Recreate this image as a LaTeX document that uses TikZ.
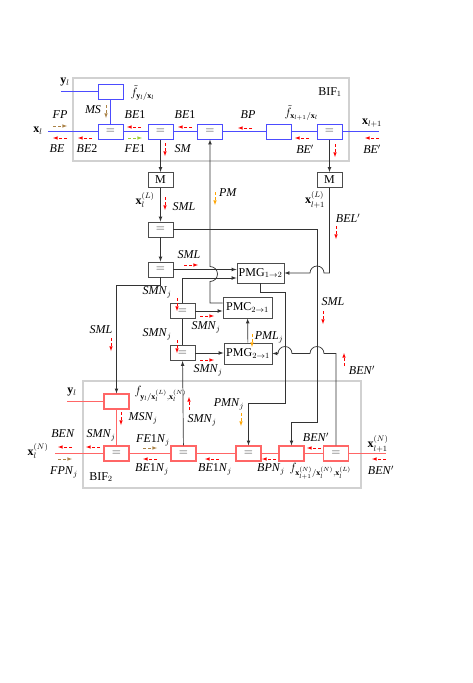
\documentclass[tikz,border=0pt]{standalone}
\usepackage{amsmath, amssymb}
\usepackage{fontspec}
\setmainfont{Liberation Serif}
\usepackage{tikz}
\usetikzlibrary{arrows}

\definecolor{brn}{RGB}{170,130,70}
\definecolor{org}{RGB}{255,165,0}
\definecolor{grn}{RGB}{154,205,50}

\begin{document}
\begin{tikzpicture}[x=1pt,y=1pt,font=\fontsize{12}{14}\selectfont]
\tikzstyle{bbox} = [draw=blue!70, line width=1pt, minimum width=25pt, minimum height=15pt, inner sep=0pt]
\tikzstyle{rbox} = [draw=red!60, line width=1.2pt, minimum width=25pt, minimum height=15pt, inner sep=0pt]
\tikzstyle{gbox} = [draw=black!70, line width=0.9pt, minimum width=25pt, minimum height=15pt, inner sep=0pt]
\tikzstyle{pbox} = [draw=black!70, line width=0.9pt, minimum width=48pt, minimum height=21pt, inner sep=1pt]
\tikzstyle{wire} = [black!80, line width=0.7pt]
\tikzstyle{msg} = [densely dashed, -latex, line width=0.6pt]
\tikzstyle{frame} = [draw=black!18, line width=1.6pt]
\newcommand{\eqs}{\textcolor{black!85}{\large$=$}}

\useasboundingbox (0,0) rectangle (473,-683);

% frames
\draw[frame] (73,-78) rectangle (349,-161);
\draw[frame] (83,-381) rectangle (361,-488);
\node (bif1) at (330,-92) {BIF$_1$};
\node (bif2) at (101,-477) {BIF$_2$};

% upper row
\coordinate (xl) at (48,-131.5);
\coordinate (xl1) at (379,-131.5);
\coordinate (yl) at (61,-91.5);
\node[bbox] (fy1) at (110.5,-91.5) {};
\node[bbox] (eq1) at (110.5,-131.5) {\eqs};
\node[bbox] (eq2) at (160.5,-131.5) {\eqs};
\node[bbox] (eq3) at (210,-131.5) {\eqs};
\node[bbox] (fx1) at (279,-131.5) {};
\node[bbox] (eq4) at (329.5,-131.5) {\eqs};
\draw[blue!70, line width=1.3pt] (xl) -- (eq1);
\draw[blue!70, line width=0.9pt] (eq1) -- (eq2) -- (eq3) -- (fx1) -- (eq4) -- (xl1);
\draw[blue!70, line width=0.9pt] (yl) -- (fy1) -- (eq1);

% lower row
\coordinate (xn) at (55,-453.5);
\coordinate (xn1) at (386,-453.5);
\coordinate (yn) at (67,-401.5);
\node[rbox] (fy2) at (116.5,-401.5) {};
\node[rbox] (eqa) at (116.5,-453.5) {\eqs};
\node[rbox] (eqb) at (183.5,-453.5) {\eqs};
\node[rbox] (eqc) at (248.5,-453.5) {\eqs};
\node[rbox] (fx2) at (291.5,-453.5) {};
\node[rbox] (eqd) at (336,-453.5) {\eqs};
\draw[red!60, line width=1.5pt] (xn) -- (eqa);
\draw[red!60, line width=1.1pt] (eqa) -- (eqb) -- (eqc) -- (fx2) -- (eqd) -- (xn1);
\draw[red!60, line width=1.1pt] (yn) -- (fy2) -- (eqa);

% middle
\node[gbox] (M1) at (160.5,-180) {M};
\node[gbox] (M2) at (329.5,-180) {M};
\node[gbox] (eqA) at (160.5,-229.5) {\eqs};
\node[gbox] (eqB) at (160.5,-269.5) {\eqs};
\node[gbox] (eqC) at (182.5,-311) {\eqs};
\node[gbox] (eqD) at (182.5,-353) {\eqs};
\node[pbox, minimum width=47pt, minimum height=20pt] (pmg12) at (260.5,-273) {PMG$_{1\to2}$};
\node[pbox, minimum width=49pt] (pmc21) at (247.5,-307.5) {PMC$_{2\to1}$};
\node[pbox] (pmg21) at (248,-353.5) {PMG$_{2\to1}$};

% connectors
\draw[wire,-latex] (eq2) -- (M1);
\draw[wire,-latex] (eq4) -- (M2);
\draw[wire,-latex] (M1) -- (eqA);
\draw[wire,-latex] (eqA) -- (eqB);
\draw[wire,-latex] (eqA.east) -| (317,-422) -| (fx2.north);
\draw[wire,-latex] (M2.south) |- (324,-273) arc (0:180:7pt) -- (pmg12.east);
\draw[wire,-latex] (eqB.east) -- (eqB.east -| pmg12.west);
\draw[wire,-latex] (eqC.north) |- ([yshift=-5pt]pmg12.west);
\draw[wire,-latex] (eqC.east) -- (eqC.east -| pmc21.west);
\draw[wire,-latex] (eqD.east) -- (eqD.east -| pmg21.west);
\draw[wire] (eqD) -- (eqC);
\draw[wire,-latex] (eqb) -- (eqD);
\draw[wire,-latex] ([yshift=4.5pt]pmc21.west) -| (210,-281.5) arc (-90:90:7.5pt) -- (eq3.south);
\draw[wire,-latex] (pmg12.south) -- ++(0,-9) -| (285,-403) -| (eqc.north);
\draw[wire,-latex] (pmg21) -- (pmc21);
\draw[wire,-latex] (eqd.north) |- (324,-353.5) arc (0:180:7pt) -- (292,-353.5) arc (0:180:7pt) -- (pmg21.east);
\draw[wire,-latex] (eqB.south) -- ++(0,-7.5) -| (fy2.north);

% upper labels
\node (lyl) at (65,-82) {$\mathbf{y}_l$};
\node[anchor=west] (lfy1) at (127,-93) {$\tilde{f}_{\mathbf{y}_l/\mathbf{x}_l}$};
\node (lxl) at (38,-131) {$\mathbf{x}_l$};
\node (lxl1) at (372,-123) {$\mathbf{x}_{l+1}$};
\node[anchor=west] (lfx1) at (281,-113) {$\tilde{f}_{\mathbf{x}_{l+1}/\mathbf{x}_l}$};
\node (lFP) at (60,-115) {\textit{FP}};
\draw[msg, brn] (53,-126) -- ++(14,0);
\node (lBE) at (57,-149) {\textit{BE}};
\draw[msg, red] (67,-138) -- ++(-14,0);
\node (lBE2) at (87,-149) {\textit{BE}2};
\draw[msg, red] (92,-138) -- ++(-14,0);
\node (lMS) at (93,-110) {\textit{MS}};
\draw[msg, brn] (106,-105) -- ++(0,-13);
\node (lBE1a) at (135,-115) {\textit{BE}1};
\draw[msg, red] (141,-127) -- ++(-14,0);
\node (lFE1) at (135,-149) {\textit{FE}1};
\draw[msg, grn] (128,-138) -- ++(14,0);
\node (lBE1b) at (185,-115) {\textit{BE}1};
\draw[msg, red] (192,-127) -- ++(-14,0);
\node (lSM) at (183,-149) {\textit{SM}};
\draw[msg, red] (165,-143) -- ++(0,-13);
\node (lBP) at (248,-115) {\textit{BP}};
\draw[msg, red] (252,-128) -- ++(-14,0);
\node (lBEp) at (305,-149) {\textit{BE}$'$};
\draw[msg, red] (309,-138) -- ++(-14,0);
\draw[msg, red] (335,-144) -- ++(0,-13);
\node (lBEpr) at (372,-149) {\textit{BE}$'$};
\draw[msg, red] (379,-138) -- ++(-14,0);

% middle labels
\node (lxL) at (145,-200) {$\mathbf{x}_l^{(L)}$};
\node (lSML1) at (184,-207) {\textit{SML}};
\draw[msg, red] (165,-197) -- ++(0,-13);
\node (lPM) at (228,-193) {\textit{PM}};
\draw[msg, org] (215,-192) -- ++(0,-13);
\node (lxL1) at (315,-200) {$\mathbf{x}_{l+1}^{(L)}$};
\node (lBELp) at (348,-218) {\textit{BEL}$'$};
\draw[msg, red] (336,-226) -- ++(0,-13);
\node (lSML2) at (189,-255) {\textit{SML}};
\draw[msg, red] (184,-265) -- ++(14,0);
\node (lSMN1) at (157,-292) {\textit{SMN}$_j$};
\draw[msg, red] (177,-298) -- ++(0,-13);
\node (lSMN2) at (206,-327) {\textit{SMN}$_j$};
\draw[msg, red] (200,-316) -- ++(14,0);
\node (lSMN3) at (157,-334) {\textit{SMN}$_j$};
\draw[msg, red] (177,-340) -- ++(0,-13);
\node (lSMN4) at (208,-370) {\textit{SMN}$_j$};
\draw[msg, red] (200,-360) -- ++(14,0);
\node (lPML) at (269,-337) {\textit{PML}$_j$};
\draw[msg, org] (252,-334) -- ++(0,-13);
\node (lSML3) at (333,-302) {\textit{SML}};
\draw[msg, red] (323,-311) -- ++(0,-13);
\node (lBENp1) at (362,-370) {\textit{BEN}$'$};
\draw[msg, red] (344,-366) -- ++(0,13);
\node (lSML4) at (101,-330) {\textit{SML}};
\draw[msg, red] (111,-338) -- ++(0,-13);
\node (lPMN) at (229,-404) {\textit{PMN}$_j$};
\draw[msg, org] (241,-413) -- ++(0,-13);
\node (lSMN5) at (202,-420) {\textit{SMN}$_j$};
\draw[msg, red] (189,-410) -- ++(0,13);

% lower labels
\node (lyn) at (72,-392) {$\mathbf{y}_l$};
\node[anchor=west] (lfy2) at (131,-394) {$f_{\mathbf{y}_l/\mathbf{x}_l^{(L)},\mathbf{x}_l^{(N)}}$};
\node (lMSN) at (143,-418) {\textit{MSN}$_j$};
\draw[msg, red] (121,-412) -- ++(0,-13);
\node (lxN) at (38,-451) {$\mathbf{x}_l^{(N)}$};
\node (lBEN) at (63,-434) {\textit{BEN}};
\draw[msg, red] (72,-447) -- ++(-14,0);
\node (lFPN) at (64,-472) {\textit{FPN}$_j$};
\draw[msg, brn] (58,-459) -- ++(14,0);
\node (lSMN6) at (101,-435) {\textit{SMN}$_j$};
\draw[msg, red] (100,-447) -- ++(-14,0);
\node (lFE1N) at (153,-440) {\textit{FE}1\textit{N}$_j$};
\draw[msg, brn] (143,-448) -- ++(14,0);
\node (lBE1N1) at (152,-469) {\textit{BE}1\textit{N}$_j$};
\draw[msg, red] (157,-459) -- ++(-14,0);
\node (lBE1N2) at (215,-469) {\textit{BE}1\textit{N}$_j$};
\draw[msg, red] (219,-459) -- ++(-14,0);
\node (lBPN) at (271,-469) {\textit{BPN}$_j$};
\draw[msg, red] (276,-459) -- ++(-14,0);
\node[anchor=west] (lfx2) at (286,-471) {$f_{\mathbf{x}_{l+1}^{(N)}/\mathbf{x}_l^{(N)},\mathbf{x}_l^{(L)}}$};
\node (lBENp2) at (316,-437) {\textit{BEN}$'$};
\draw[msg, red] (321,-448) -- ++(-14,0);
\node (lxN1) at (378,-444) {$\mathbf{x}_{l+1}^{(N)}$};
\node (lBENp3) at (381,-470) {\textit{BEN}$'$};
\draw[msg, red] (386,-459) -- ++(-14,0);
\end{tikzpicture}
\end{document}
